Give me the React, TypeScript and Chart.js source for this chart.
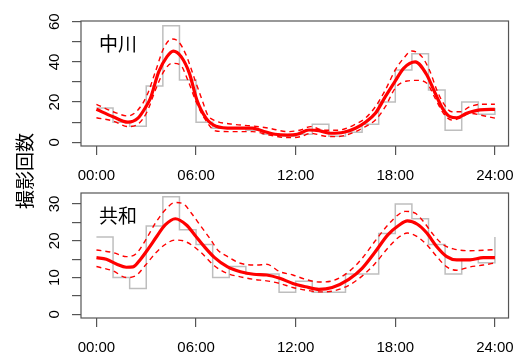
import React, { useEffect, useRef } from "react";
import { Chart, registerables } from "chart.js";

Chart.register(...registerables);

// ---------- data ----------
const X_TICKS = [0, 6, 12, 18, 24];
const BIN_HOURS = [0, 1, 2, 3, 4, 5, 6, 7, 8, 9, 10, 11, 12, 13, 14, 15, 16, 17, 18, 19, 20, 21, 22, 23, 24];

const NAKAGAWA_BINS = [17, 10, 8, 28, 58, 31, 10, 7, 7, 6, 4, 3, 4, 9, 3, 5, 9, 20, 36, 44, 26, 6, 20, 14];
const KYOWA_BINS = [21, 10, 7, 24, 32, 23, 19, 10, 13, 11, 11, 6, 9, 6, 6, 11, 11, 22, 30, 26, 19, 11, 15, 14];

const NAKAGAWA_MEAN_X = [0, 1, 1.9, 2.5, 3, 3.25, 3.75, 4.25, 4.63, 5.1, 5.6, 6.05, 6.6, 7.2, 8.2, 9.4, 10, 10.75, 11.5, 12.1, 12.8, 13.4, 14.1, 14.9, 15.6, 16.2, 16.8, 17.4, 18, 18.5, 19.2, 19.9, 20.4, 20.9, 21.3, 21.7, 22.3, 23.1, 24];
const NAKAGAWA_MEAN_Y = [16.4, 12.7, 10, 12, 18, 21.9, 35, 42.6, 45.4, 42.6, 34.3, 21, 12, 8, 7, 7, 5.6, 4, 3.6, 4, 6.1, 5.8, 4.5, 5, 7, 10, 14.4, 22.7, 30.5, 36.8, 40, 33.5, 24.4, 16.1, 12.7, 12.2, 14.4, 16.1, 16.4];

const NAKAGAWA_UP_X = [0, 1, 1.9, 2.5, 3.05, 3.55, 4.05, 4.55, 4.95, 5.4, 5.9, 6.4, 6.7, 7.2, 8.2, 9.4, 10.4, 11.5, 12.3, 12.9, 13.7, 14.5, 15.6, 16.2, 16.8, 17.4, 18, 18.5, 19, 19.6, 20.1, 20.5, 20.9, 21.4, 21.9, 22.5, 23.1, 24];
const NAKAGAWA_UP_Y = [18.9, 15.2, 13.1, 16.1, 23.5, 35.1, 46.8, 51.4, 50, 43.4, 31.8, 20.2, 13.6, 10.6, 9, 8.1, 7, 5.3, 6.1, 7.8, 6, 6, 9, 12, 17.7, 26, 36, 41.8, 45.4, 42.6, 35.1, 26, 19.4, 15.2, 15.2, 17.7, 18.9, 18.9];

const NAKAGAWA_LO_X = [0, 1, 1.9, 2.5, 3.05, 3.55, 4.05, 4.55, 5.05, 5.5, 6, 6.5, 7.2, 8.2, 9.4, 10.4, 11.5, 12.3, 12.9, 13.7, 14.5, 15.6, 16.2, 16.8, 17.4, 18, 18.7, 19.3, 19.9, 20.4, 20.9, 21.4, 21.9, 22.5, 23.1, 24];
const NAKAGAWA_LO_Y = [12.2, 10.6, 7.8, 9, 15.2, 26, 35.1, 39.3, 38.5, 31, 20.2, 12, 5.6, 5.3, 5.3, 3.6, 2.3, 2.8, 4.5, 3.1, 2.8, 5.3, 7.8, 11.1, 17.7, 27, 30.5, 30.8, 29.4, 21.9, 14.4, 11.1, 12, 14.4, 13.6, 12];

const KYOWA_MEAN_X = [0, 0.6, 1.2, 1.8, 2.2, 2.66, 3.15, 3.65, 4.14, 4.75, 5.42, 5.92, 6.5, 7.1, 7.9, 8.67, 9.47, 10.25, 11.04, 11.83, 12.6, 13.4, 14.2, 15.2, 16, 16.76, 17.55, 18.24, 18.73, 19.33, 19.9, 20.5, 21.1, 21.7, 22.5, 23.3, 24];
const KYOWA_MEAN_Y = [15.4, 15, 13.7, 12.8, 12.9, 15, 18, 21.3, 24.3, 26, 24.3, 21.6, 18.4, 15.5, 12.9, 11.6, 10.9, 10.7, 9.8, 8.4, 7.5, 6.8, 7.3, 9.5, 12.5, 16.8, 21.6, 24.3, 25.4, 24.5, 22.1, 18.4, 15.7, 14.8, 14.8, 15.4, 15.4];

const KYOWA_UP_X = [0, 1, 1.8, 2.37, 2.96, 3.55, 4.14, 4.73, 5.22, 5.72, 6.3, 6.9, 7.3, 7.9, 8.67, 9.66, 10.25, 11.04, 11.83, 12.6, 13.4, 14.2, 15.2, 16, 16.76, 17.55, 18.24, 18.6, 19.2, 19.7, 20.3, 20.9, 21.5, 22.5, 24];
const KYOWA_UP_Y = [17.5, 16.8, 15.7, 16.4, 20.2, 24.8, 28.4, 30.4, 30.1, 27.5, 23.9, 20.2, 17.5, 15.7, 13.9, 13.4, 13.6, 11.6, 10.7, 9.5, 8.8, 9.1, 11.6, 15.2, 19.8, 24.3, 27.3, 28, 27.5, 25.2, 21.6, 18.9, 17.8, 17.3, 17.6];

const KYOWA_LO_X = [0, 1, 1.8, 2.37, 2.96, 3.55, 4.14, 4.73, 5.22, 5.72, 6.3, 7.1, 7.9, 8.67, 9.47, 10.25, 11.04, 11.83, 12.6, 13.4, 14.2, 15.2, 16, 16.76, 17.55, 18.24, 18.73, 19.33, 19.9, 20.5, 21.1, 21.7, 22.5, 23.3, 24];
const KYOWA_LO_Y = [13, 11.8, 10, 10.5, 13.4, 16.6, 19, 20.2, 20, 18.9, 16.8, 13.2, 11.1, 10.2, 9.5, 9.1, 8.4, 7.3, 6.6, 6.1, 6.3, 7.9, 10.4, 13.7, 18, 21.1, 22.1, 21.1, 18.9, 15.7, 12.9, 12, 12.9, 13.4, 14];

const NAKAGAWA_Y_TICKS = [0, 10, 20, 30, 40, 50, 60];
const NAKAGAWA_Y_LABELS = [0, 20, 40, 60];
const KYOWA_Y_TICKS = [0, 5, 10, 15, 20, 25, 30];
const KYOWA_Y_LABELS = [0, 10, 20, 30];

const Y_TITLE = "撮影回数";

// ---------- layout / style ----------
const W = 526;
const H = 354;
const LABEL_FONT = '15px "Liberation Sans", Arial, sans-serif';
const CJK_FONT = '"Noto Sans CJK JP", "Noto Sans CJK SC", sans-serif';
const AXIS_COLOR = "#555555";

const pts = (xs: number[], ys: number[]) => xs.map((x, i) => ({ x, y: ys[i] }));
const stepPts = (bins: number[]) => BIN_HOURS.map((h, i) => ({ x: h, y: bins[i % bins.length] }));
const fmtHour = (v: number) => `${String(v).padStart(2, "0")}:00`;

type Panel = {
  title: string;
  bins: number[];
  mean: [number[], number[]];
  up: [number[], number[]];
  lo: [number[], number[]];
  yTicks: number[];
  yLabels: number[];
  yMin: number;
  yMax: number;
  padTop: number;
  padBottom: number;
  xAxisH: number;
  drawYTitle: boolean;
};

const PANELS: Panel[] = [
  {
    title: "中川",
    bins: NAKAGAWA_BINS,
    mean: [NAKAGAWA_MEAN_X, NAKAGAWA_MEAN_Y],
    up: [NAKAGAWA_UP_X, NAKAGAWA_UP_Y],
    lo: [NAKAGAWA_LO_X, NAKAGAWA_LO_Y],
    yTicks: NAKAGAWA_Y_TICKS,
    yLabels: NAKAGAWA_Y_LABELS,
    yMin: -1.85,
    yMax: 60.35,
    padTop: 21,
    padBottom: 168,
    xAxisH: 40,
    drawYTitle: true,
  },
  {
    title: "共和",
    bins: KYOWA_BINS,
    mean: [KYOWA_MEAN_X, KYOWA_MEAN_Y],
    up: [KYOWA_UP_X, KYOWA_UP_Y],
    lo: [KYOWA_LO_X, KYOWA_LO_Y],
    yTicks: KYOWA_Y_TICKS,
    yLabels: KYOWA_Y_LABELS,
    yMin: -1.0,
    yMax: 33.0,
    padTop: 193,
    padBottom: 0,
    xAxisH: 36,
    drawYTitle: false,
  },
];

function makeChart(canvas: HTMLCanvasElement, p: Panel) {
  const decor = {
    id: "panelDecor",
    afterDraw(chart: any) {
      const { ctx, chartArea: a } = chart;
      const ys = chart.scales.y;
      ctx.save();
      ctx.strokeStyle = AXIS_COLOR;
      ctx.lineWidth = 1.2;
      ctx.setLineDash([]);
      ctx.strokeRect(a.left, a.top, a.right - a.left, a.bottom - a.top);

      ctx.fillStyle = "#000";
      ctx.font = LABEL_FONT;
      ctx.textAlign = "center";
      ctx.textBaseline = "alphabetic";
      for (const v of p.yLabels) {
        const py = ys.getPixelForValue(v);
        ctx.save();
        ctx.translate(a.left - 22, py);
        ctx.rotate(-Math.PI / 2);
        ctx.fillText(String(v), 0, 0);
        ctx.restore();
      }

      ctx.font = `19px ${CJK_FONT}`;
      ctx.textAlign = "left";
      ctx.textBaseline = "middle";
      ctx.fillText(p.title, a.left + 18, a.top + 23);

      if (p.drawYTitle) {
        ctx.save();
        ctx.translate(25, 171);
        ctx.rotate(-Math.PI / 2);
        ctx.textAlign = "center";
        ctx.textBaseline = "middle";
        ctx.fillText(Y_TITLE, 0, 0);
        ctx.restore();
      }
      ctx.restore();
    },
  };

  return new Chart(canvas, {
    type: "line",
    data: {
      datasets: [
        {
          data: pts(p.mean[0], p.mean[1]),
          borderColor: "#ff0000",
          borderWidth: 3.2,
          pointRadius: 0,
          cubicInterpolationMode: "monotone",
          order: 0,
        },
        {
          data: pts(p.up[0], p.up[1]),
          borderColor: "#ff0000",
          borderWidth: 1.4,
          borderDash: [5, 4],
          pointRadius: 0,
          cubicInterpolationMode: "monotone",
          order: 1,
        },
        {
          data: pts(p.lo[0], p.lo[1]),
          borderColor: "#ff0000",
          borderWidth: 1.4,
          borderDash: [5, 4],
          pointRadius: 0,
          cubicInterpolationMode: "monotone",
          order: 1,
        },
        {
          data: stepPts(p.bins),
          borderColor: "#bebebe",
          borderWidth: 1.5,
          pointRadius: 0,
          stepped: true,
          order: 2,
        },
      ],
    },
    options: {
      animation: false,
      responsive: false,
      events: [],
      layout: { padding: { left: 0, right: 10, top: p.padTop, bottom: p.padBottom } },
      plugins: { legend: { display: false }, tooltip: { enabled: false }, title: { display: false } },
      scales: {
        x: {
          type: "linear",
          min: -0.93,
          max: 24.82,
          afterBuildTicks: (s: any) => {
            s.ticks = X_TICKS.map((v) => ({ value: v }));
          },
          afterFit: (s: any) => {
            s.height = p.xAxisH;
          },
          ticks: {
            color: "#000",
            font: { family: '"Liberation Sans", Arial, sans-serif', size: 15 },
            padding: 12,
            maxRotation: 0,
            autoSkip: false,
            callback: (v: any) => fmtHour(Number(v)),
          },
          grid: { drawOnChartArea: false, drawTicks: true, tickLength: 9, color: AXIS_COLOR, lineWidth: 1.2 },
          border: { display: false },
        },
        y: {
          type: "linear",
          min: p.yMin,
          max: p.yMax,
          afterBuildTicks: (s: any) => {
            s.ticks = p.yTicks.map((v) => ({ value: v }));
          },
          afterFit: (s: any) => {
            s.width = 81;
          },
          ticks: { display: false },
          grid: { drawOnChartArea: false, drawTicks: true, tickLength: 9, color: AXIS_COLOR, lineWidth: 1.2 },
          border: { display: false },
        },
      },
    } as any,
    plugins: [decor],
  });
}

export default function App() {
  const ref1 = useRef<HTMLCanvasElement>(null);
  const ref2 = useRef<HTMLCanvasElement>(null);

  useEffect(() => {
    const charts: Chart[] = [];
    if (ref1.current) charts.push(makeChart(ref1.current, PANELS[0]));
    if (ref2.current) charts.push(makeChart(ref2.current, PANELS[1]));
    return () => charts.forEach((c) => c.destroy());
  }, []);

  const cStyle: React.CSSProperties = { position: "absolute", left: 0, top: 0, width: W, height: H };
  return (
    <div style={{ position: "fixed", left: 0, top: 0, width: W, height: H, background: "#fff" }}>
      <canvas ref={ref1} width={W} height={H} style={cStyle} />
      <canvas ref={ref2} width={W} height={H} style={cStyle} />
    </div>
  );
}
